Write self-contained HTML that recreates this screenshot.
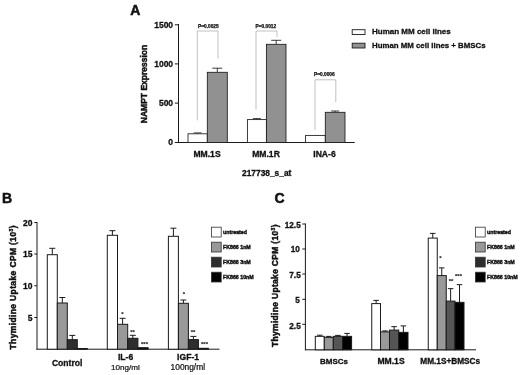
<!DOCTYPE html>
<html><head><meta charset="utf-8"><title>Figure</title>
<style>
html,body{margin:0;padding:0;background:#fff;}
body{width:520px;height:375px;overflow:hidden;font-family:'Liberation Sans', Arial, sans-serif;}
svg{display:block;}
svg text{font-family:'Liberation Sans', Arial, sans-serif;}
</style></head><body>
<svg width="520" height="375" viewBox="0 0 520 375">
<rect x="0" y="0" width="520" height="375" fill="#fff"/>
<text x="130.3" y="14.6" font-size="14" font-weight="bold" text-anchor="start" fill="#111" stroke="#111" stroke-width="0.5" >A</text>
<line x1="178.5" y1="24" x2="178.5" y2="143.0" stroke="#1a1a1a" stroke-width="1"/>
<line x1="178" y1="142.5" x2="354.7" y2="142.5" stroke="#1a1a1a" stroke-width="1"/>
<line x1="174.8" y1="24.8" x2="178.5" y2="24.8" stroke="#1a1a1a" stroke-width="1"/>
<text x="173.1" y="27.85" font-size="8.5" font-weight="bold" text-anchor="end" fill="#111" stroke="#111" stroke-width="0.3" >1500</text>
<line x1="174.8" y1="63.9" x2="178.5" y2="63.9" stroke="#1a1a1a" stroke-width="1"/>
<text x="173.1" y="66.95" font-size="8.5" font-weight="bold" text-anchor="end" fill="#111" stroke="#111" stroke-width="0.3" >1000</text>
<line x1="174.8" y1="103.1" x2="178.5" y2="103.1" stroke="#1a1a1a" stroke-width="1"/>
<text x="173.1" y="106.14999999999999" font-size="8.5" font-weight="bold" text-anchor="end" fill="#111" stroke="#111" stroke-width="0.3" >500</text>
<line x1="174.8" y1="142.5" x2="178.5" y2="142.5" stroke="#1a1a1a" stroke-width="1"/>
<text x="173.1" y="144.7" font-size="8.5" font-weight="bold" text-anchor="end" fill="#111" stroke="#111" stroke-width="0.3" >0</text>
<line x1="197.65" y1="132.9" x2="197.65" y2="133.8" stroke="#1a1a1a" stroke-width="0.85"/>
<line x1="193.65" y1="132.9" x2="201.65" y2="132.9" stroke="#1a1a1a" stroke-width="0.85"/>
<rect x="188" y="133.8" width="19.30000000000001" height="8.699999999999989" fill="#fff" stroke="#1a1a1a" stroke-width="0.85"/>
<line x1="217.3" y1="68.2" x2="217.3" y2="72.3" stroke="#1a1a1a" stroke-width="0.85"/>
<line x1="212.3" y1="68.2" x2="222.3" y2="68.2" stroke="#1a1a1a" stroke-width="0.85"/>
<rect x="207.3" y="72.3" width="20.0" height="70.2" fill="#919191" stroke="#1a1a1a" stroke-width="0.85"/>
<line x1="256.9" y1="118.6" x2="256.9" y2="119.6" stroke="#1a1a1a" stroke-width="0.85"/>
<line x1="252.89999999999998" y1="118.6" x2="260.9" y2="118.6" stroke="#1a1a1a" stroke-width="0.85"/>
<rect x="247.4" y="119.6" width="18.99999999999997" height="22.900000000000006" fill="#fff" stroke="#1a1a1a" stroke-width="0.85"/>
<line x1="276.2" y1="40.3" x2="276.2" y2="44.3" stroke="#1a1a1a" stroke-width="0.85"/>
<line x1="271.2" y1="40.3" x2="281.2" y2="40.3" stroke="#1a1a1a" stroke-width="0.85"/>
<rect x="266.4" y="44.3" width="19.600000000000023" height="98.2" fill="#919191" stroke="#1a1a1a" stroke-width="0.85"/>
<rect x="305.6" y="135.4" width="19.69999999999999" height="7.099999999999994" fill="#fff" stroke="#1a1a1a" stroke-width="0.85"/>
<line x1="335.15" y1="111" x2="335.15" y2="112.3" stroke="#1a1a1a" stroke-width="0.85"/>
<line x1="331.15" y1="111" x2="339.15" y2="111" stroke="#1a1a1a" stroke-width="0.85"/>
<rect x="325.3" y="112.3" width="19.69999999999999" height="30.200000000000003" fill="#919191" stroke="#1a1a1a" stroke-width="0.85"/>
<polyline points="197.3,120.4 197.3,31 218,31 218,58.5" fill="none" stroke="#a8a8a8" stroke-width="0.7"/>
<polyline points="256,109.5 256,31 277,31 277,37" fill="none" stroke="#a8a8a8" stroke-width="0.7"/>
<polyline points="315,130 315,79.8 335.8,79.8 335.8,102" fill="none" stroke="#a8a8a8" stroke-width="0.7"/>
<text x="198" y="27.5" font-size="4.8" font-weight="bold" text-anchor="start" fill="#111" stroke="#111" stroke-width="0.25" >P=0.0025</text>
<text x="255.5" y="27.5" font-size="4.8" font-weight="bold" text-anchor="start" fill="#111" stroke="#111" stroke-width="0.25" >P=0.0012</text>
<text x="314" y="75.8" font-size="4.8" font-weight="bold" text-anchor="start" fill="#111" stroke="#111" stroke-width="0.25" >P=0.0006</text>
<text x="207" y="157.3" font-size="8.6" font-weight="bold" text-anchor="middle" fill="#111" stroke="#111" stroke-width="0.3" >MM.1S</text>
<text x="266" y="157.3" font-size="8.6" font-weight="bold" text-anchor="middle" fill="#111" stroke="#111" stroke-width="0.3" >MM.1R</text>
<text x="324.5" y="157.3" font-size="8.6" font-weight="bold" text-anchor="middle" fill="#111" stroke="#111" stroke-width="0.3" >INA-6</text>
<text x="266.7" y="176.3" font-size="8.4" font-weight="bold" text-anchor="middle" fill="#111" stroke="#111" stroke-width="0.3" >217738_s_at</text>
<text transform="translate(146.5,84) rotate(-90)" font-size="8.5" font-weight="bold" text-anchor="middle" fill="#111" stroke="#111" stroke-width="0.45">NAMPT Expression</text>
<rect x="352.2" y="29.7" width="12.8" height="4.8" fill="#fff" stroke="#1a1a1a" stroke-width="0.9"/>
<rect x="352.2" y="43.2" width="12.8" height="4.8" fill="#919191" stroke="#1a1a1a" stroke-width="0.9"/>
<text x="372" y="34.3" font-size="8" font-weight="bold" text-anchor="start" fill="#111" stroke="#111" stroke-width="0.3" >Human MM cell lines</text>
<text x="372" y="48" font-size="7.85" font-weight="bold" text-anchor="start" fill="#111" stroke="#111" stroke-width="0.3" >Human MM cell lines + BMSCs</text>
<text x="1.9" y="202.6" font-size="14" font-weight="bold" text-anchor="start" fill="#111" stroke="#111" stroke-width="0.5" >B</text>
<line x1="37" y1="222" x2="37" y2="349.7" stroke="#1a1a1a" stroke-width="1"/>
<line x1="36.5" y1="349.2" x2="219.5" y2="349.2" stroke="#1a1a1a" stroke-width="1"/>
<line x1="34.3" y1="222.5" x2="37" y2="222.5" stroke="#1a1a1a" stroke-width="1"/>
<text x="32.4" y="225.5" font-size="8.5" font-weight="bold" text-anchor="end" fill="#111" stroke="#111" stroke-width="0.3" >20</text>
<line x1="34.3" y1="254" x2="37" y2="254" stroke="#1a1a1a" stroke-width="1"/>
<text x="32.4" y="257.0" font-size="8.5" font-weight="bold" text-anchor="end" fill="#111" stroke="#111" stroke-width="0.3" >15</text>
<line x1="34.3" y1="285.75" x2="37" y2="285.75" stroke="#1a1a1a" stroke-width="1"/>
<text x="32.4" y="288.75" font-size="8.5" font-weight="bold" text-anchor="end" fill="#111" stroke="#111" stroke-width="0.3" >10</text>
<line x1="34.3" y1="317.5" x2="37" y2="317.5" stroke="#1a1a1a" stroke-width="1"/>
<text x="32.4" y="320.5" font-size="8.5" font-weight="bold" text-anchor="end" fill="#111" stroke="#111" stroke-width="0.3" >5</text>
<line x1="52.3" y1="248.3" x2="52.3" y2="254.7" stroke="#1a1a1a" stroke-width="1"/>
<line x1="49.3" y1="248.3" x2="55.3" y2="248.3" stroke="#1a1a1a" stroke-width="1"/>
<rect x="47.3" y="254.7" width="10.0" height="94.5" fill="#fff" stroke="#1a1a1a" stroke-width="1"/>
<line x1="62.3" y1="297.5" x2="62.3" y2="303" stroke="#1a1a1a" stroke-width="1"/>
<line x1="59.3" y1="297.5" x2="65.3" y2="297.5" stroke="#1a1a1a" stroke-width="1"/>
<rect x="57.3" y="303" width="10.0" height="46.19999999999999" fill="#999" stroke="#1a1a1a" stroke-width="1"/>
<line x1="72.3" y1="335.4" x2="72.3" y2="339.7" stroke="#1a1a1a" stroke-width="1"/>
<line x1="69.3" y1="335.4" x2="75.3" y2="335.4" stroke="#1a1a1a" stroke-width="1"/>
<rect x="67.3" y="339.7" width="10.0" height="9.5" fill="#2e2e2e" stroke="#1a1a1a" stroke-width="1"/>
<rect x="77.3" y="348.5" width="10.0" height="0.6999999999999886" fill="#000" stroke="#1a1a1a" stroke-width="1"/>
<line x1="112.4" y1="230.7" x2="112.4" y2="235.3" stroke="#1a1a1a" stroke-width="1"/>
<line x1="109.4" y1="230.7" x2="115.4" y2="230.7" stroke="#1a1a1a" stroke-width="1"/>
<rect x="107.3" y="235.3" width="10.200000000000003" height="113.89999999999998" fill="#fff" stroke="#1a1a1a" stroke-width="1"/>
<line x1="122.6" y1="318.3" x2="122.6" y2="324.3" stroke="#1a1a1a" stroke-width="1"/>
<line x1="119.6" y1="318.3" x2="125.6" y2="318.3" stroke="#1a1a1a" stroke-width="1"/>
<rect x="117.5" y="324.3" width="10.199999999999989" height="24.899999999999977" fill="#999" stroke="#1a1a1a" stroke-width="1"/>
<line x1="132.8" y1="335.3" x2="132.8" y2="338.3" stroke="#1a1a1a" stroke-width="1"/>
<line x1="129.8" y1="335.3" x2="135.8" y2="335.3" stroke="#1a1a1a" stroke-width="1"/>
<rect x="127.69999999999999" y="338.3" width="10.200000000000017" height="10.899999999999977" fill="#2e2e2e" stroke="#1a1a1a" stroke-width="1"/>
<rect x="137.9" y="347.7" width="10.199999999999989" height="1.5" fill="#000" stroke="#1a1a1a" stroke-width="1"/>
<line x1="173.4" y1="228.2" x2="173.4" y2="236.3" stroke="#1a1a1a" stroke-width="1"/>
<line x1="170.4" y1="228.2" x2="176.4" y2="228.2" stroke="#1a1a1a" stroke-width="1"/>
<rect x="168.4" y="236.3" width="10.0" height="112.89999999999998" fill="#fff" stroke="#1a1a1a" stroke-width="1"/>
<line x1="183.4" y1="300" x2="183.4" y2="303.3" stroke="#1a1a1a" stroke-width="1"/>
<line x1="180.4" y1="300" x2="186.4" y2="300" stroke="#1a1a1a" stroke-width="1"/>
<rect x="178.4" y="303.3" width="10.0" height="45.89999999999998" fill="#999" stroke="#1a1a1a" stroke-width="1"/>
<line x1="193.4" y1="336.4" x2="193.4" y2="339.6" stroke="#1a1a1a" stroke-width="1"/>
<line x1="190.4" y1="336.4" x2="196.4" y2="336.4" stroke="#1a1a1a" stroke-width="1"/>
<rect x="188.4" y="339.6" width="10.0" height="9.599999999999966" fill="#2e2e2e" stroke="#1a1a1a" stroke-width="1"/>
<rect x="198.4" y="348.3" width="10.0" height="0.8999999999999773" fill="#000" stroke="#1a1a1a" stroke-width="1"/>
<text x="67.2" y="365.6" font-size="8.6" font-weight="bold" text-anchor="middle" fill="#111" stroke="#111" stroke-width="0.3" >Control</text>
<text x="125.6" y="360.3" font-size="8.6" font-weight="bold" text-anchor="middle" fill="#111" stroke="#111" stroke-width="0.3" >IL-6</text>
<text x="125.4" y="370.2" font-size="8.1" font-weight="normal" text-anchor="middle" fill="#111" stroke="#111" stroke-width="0.22" >10ng/ml</text>
<text x="188.1" y="360.3" font-size="8.6" font-weight="bold" text-anchor="middle" fill="#111" stroke="#111" stroke-width="0.3" >IGF-1</text>
<text x="187.8" y="370.2" font-size="8.4" font-weight="normal" text-anchor="middle" fill="#111" stroke="#111" stroke-width="0.22" >100ng/ml</text>
<text transform="translate(16,287.3) rotate(-90)" letter-spacing="0.37" font-size="8.5" font-weight="bold" text-anchor="middle" fill="#111" stroke="#111" stroke-width="0.45">Thymidine Uptake CPM (10<tspan font-size="5" dy="-3">3</tspan><tspan dy="3">)</tspan></text>
<text x="122.5" y="315.5" font-size="6" font-weight="bold" text-anchor="middle" fill="#222" stroke="#222" stroke-width="0.12" >*</text>
<text x="132.5" y="333.5" font-size="6" font-weight="bold" text-anchor="middle" fill="#222" stroke="#222" stroke-width="0.12" >**</text>
<text x="144.5" y="345.8" font-size="6" font-weight="bold" text-anchor="middle" fill="#222" stroke="#222" stroke-width="0.12" >***</text>
<text x="184" y="296" font-size="6" font-weight="bold" text-anchor="middle" fill="#222" stroke="#222" stroke-width="0.12" >*</text>
<text x="193" y="334" font-size="6" font-weight="bold" text-anchor="middle" fill="#222" stroke="#222" stroke-width="0.12" >**</text>
<text x="204.5" y="346" font-size="6" font-weight="bold" text-anchor="middle" fill="#222" stroke="#222" stroke-width="0.12" >***</text>
<rect x="211.4" y="227.20000000000002" width="9.8" height="9.8" fill="#fff" stroke="#333" stroke-width="0.8"/>
<text x="223" y="233.9" font-size="5.25" font-weight="bold" text-anchor="start" fill="#111" stroke="#111" stroke-width="0.4" >untreated</text>
<rect x="211.4" y="242.20000000000002" width="9.8" height="9.8" fill="#999" stroke="#333" stroke-width="0.8"/>
<text x="223" y="248.9" font-size="5.25" font-weight="bold" text-anchor="start" fill="#111" stroke="#111" stroke-width="0.4" >FK866 1nM</text>
<rect x="211.4" y="257.2" width="9.8" height="9.8" fill="#2e2e2e" stroke="#333" stroke-width="0.8"/>
<text x="223" y="263.90000000000003" font-size="5.25" font-weight="bold" text-anchor="start" fill="#111" stroke="#111" stroke-width="0.4" >FK866 3nM</text>
<rect x="211.4" y="272.2" width="9.8" height="9.8" fill="#000" stroke="#333" stroke-width="0.8"/>
<text x="223" y="278.90000000000003" font-size="5.25" font-weight="bold" text-anchor="start" fill="#111" stroke="#111" stroke-width="0.4" >FK866 10nM</text>
<text x="274.5" y="202.7" font-size="14" font-weight="bold" text-anchor="start" fill="#111" stroke="#111" stroke-width="0.5" >C</text>
<line x1="305.4" y1="223.5" x2="305.4" y2="350.3" stroke="#1a1a1a" stroke-width="1"/>
<line x1="305" y1="349.8" x2="476" y2="349.8" stroke="#1a1a1a" stroke-width="1"/>
<line x1="302.3" y1="224" x2="305.4" y2="224" stroke="#1a1a1a" stroke-width="1"/>
<text x="300.7" y="228.2" font-size="8.2" font-weight="bold" text-anchor="end" fill="#111" stroke="#111" stroke-width="0.3" >12.5</text>
<line x1="302.3" y1="249" x2="305.4" y2="249" stroke="#1a1a1a" stroke-width="1"/>
<text x="299.8" y="252.2" font-size="8.2" font-weight="bold" text-anchor="end" fill="#111" stroke="#111" stroke-width="0.3" >10</text>
<line x1="302.3" y1="274" x2="305.4" y2="274" stroke="#1a1a1a" stroke-width="1"/>
<text x="300.7" y="278.2" font-size="8.2" font-weight="bold" text-anchor="end" fill="#111" stroke="#111" stroke-width="0.3" >7.5</text>
<line x1="302.3" y1="299.3" x2="305.4" y2="299.3" stroke="#1a1a1a" stroke-width="1"/>
<text x="299.8" y="302.5" font-size="8.2" font-weight="bold" text-anchor="end" fill="#111" stroke="#111" stroke-width="0.3" >5</text>
<line x1="302.3" y1="324.3" x2="305.4" y2="324.3" stroke="#1a1a1a" stroke-width="1"/>
<text x="300.7" y="328.5" font-size="8.2" font-weight="bold" text-anchor="end" fill="#111" stroke="#111" stroke-width="0.3" >2.5</text>
<line x1="319.8" y1="335.2" x2="319.8" y2="336.35" stroke="#1a1a1a" stroke-width="1"/>
<line x1="317.05" y1="335.2" x2="322.55" y2="335.2" stroke="#1a1a1a" stroke-width="1"/>
<rect x="315.3" y="336.35" width="9.0" height="13.449999999999989" fill="#fff" stroke="#1a1a1a" stroke-width="1"/>
<line x1="328.8" y1="336.4" x2="328.8" y2="337.35" stroke="#1a1a1a" stroke-width="1"/>
<line x1="326.05" y1="336.4" x2="331.55" y2="336.4" stroke="#1a1a1a" stroke-width="1"/>
<rect x="324.3" y="337.35" width="9.0" height="12.449999999999989" fill="#999" stroke="#1a1a1a" stroke-width="1"/>
<line x1="337.9" y1="335.4" x2="337.9" y2="336.35" stroke="#1a1a1a" stroke-width="1"/>
<line x1="335.15" y1="335.4" x2="340.65" y2="335.4" stroke="#1a1a1a" stroke-width="1"/>
<rect x="333.3" y="336.35" width="9.199999999999989" height="13.449999999999989" fill="#555" stroke="#1a1a1a" stroke-width="1"/>
<line x1="347.05" y1="333.4" x2="347.05" y2="336.35" stroke="#1a1a1a" stroke-width="1"/>
<line x1="344.3" y1="333.4" x2="349.8" y2="333.4" stroke="#1a1a1a" stroke-width="1"/>
<rect x="342.5" y="336.35" width="9.100000000000023" height="13.449999999999989" fill="#000" stroke="#1a1a1a" stroke-width="1"/>
<line x1="376.125" y1="300.4" x2="376.125" y2="303.6" stroke="#1a1a1a" stroke-width="1"/>
<line x1="373.375" y1="300.4" x2="378.875" y2="300.4" stroke="#1a1a1a" stroke-width="1"/>
<rect x="371.75" y="303.6" width="8.75" height="46.19999999999999" fill="#fff" stroke="#1a1a1a" stroke-width="1"/>
<line x1="385.0" y1="330.9" x2="385.0" y2="331.85" stroke="#1a1a1a" stroke-width="1"/>
<line x1="382.25" y1="330.9" x2="387.75" y2="330.9" stroke="#1a1a1a" stroke-width="1"/>
<rect x="380.5" y="331.85" width="9.0" height="17.94999999999999" fill="#999" stroke="#1a1a1a" stroke-width="1"/>
<line x1="394.125" y1="326.65" x2="394.125" y2="330.1" stroke="#1a1a1a" stroke-width="1"/>
<line x1="391.375" y1="326.65" x2="396.875" y2="326.65" stroke="#1a1a1a" stroke-width="1"/>
<rect x="389.5" y="330.1" width="9.25" height="19.69999999999999" fill="#555" stroke="#1a1a1a" stroke-width="1"/>
<line x1="403.375" y1="325.9" x2="403.375" y2="332.35" stroke="#1a1a1a" stroke-width="1"/>
<line x1="400.625" y1="325.9" x2="406.125" y2="325.9" stroke="#1a1a1a" stroke-width="1"/>
<rect x="398.75" y="332.35" width="9.25" height="17.44999999999999" fill="#000" stroke="#1a1a1a" stroke-width="1"/>
<line x1="432.75" y1="233.4" x2="432.75" y2="238.1" stroke="#1a1a1a" stroke-width="1"/>
<line x1="430.0" y1="233.4" x2="435.5" y2="233.4" stroke="#1a1a1a" stroke-width="1"/>
<rect x="428.25" y="238.1" width="9.0" height="111.70000000000002" fill="#fff" stroke="#1a1a1a" stroke-width="1"/>
<line x1="441.75" y1="267.9" x2="441.75" y2="275.6" stroke="#1a1a1a" stroke-width="1"/>
<line x1="439.0" y1="267.9" x2="444.5" y2="267.9" stroke="#1a1a1a" stroke-width="1"/>
<rect x="437.25" y="275.6" width="9.0" height="74.19999999999999" fill="#999" stroke="#1a1a1a" stroke-width="1"/>
<line x1="450.625" y1="288.65" x2="450.625" y2="301.1" stroke="#1a1a1a" stroke-width="1"/>
<line x1="447.875" y1="288.65" x2="453.375" y2="288.65" stroke="#1a1a1a" stroke-width="1"/>
<rect x="446.25" y="301.1" width="8.75" height="48.69999999999999" fill="#555" stroke="#1a1a1a" stroke-width="1"/>
<line x1="459.5" y1="284.65" x2="459.5" y2="302.35" stroke="#1a1a1a" stroke-width="1"/>
<line x1="456.75" y1="284.65" x2="462.25" y2="284.65" stroke="#1a1a1a" stroke-width="1"/>
<rect x="455" y="302.35" width="9" height="47.44999999999999" fill="#000" stroke="#1a1a1a" stroke-width="1"/>
<text x="334" y="364.4" font-size="8.0" font-weight="bold" text-anchor="middle" fill="#111" stroke="#111" stroke-width="0.3" >BMSCs</text>
<text x="391" y="364.4" font-size="8.6" font-weight="bold" text-anchor="middle" fill="#111" stroke="#111" stroke-width="0.3" >MM.1S</text>
<text x="450.2" y="364.4" font-size="8.25" font-weight="bold" text-anchor="middle" fill="#111" stroke="#111" stroke-width="0.3" >MM.1S+BMSCs</text>
<text transform="translate(277.5,285.6) rotate(-90)" letter-spacing="0.31" font-size="8.5" font-weight="bold" text-anchor="middle" fill="#111" stroke="#111" stroke-width="0.45">Thymidine Uptake CPM (10<tspan font-size="5" dy="-3">3</tspan><tspan dy="3">)</tspan></text>
<text x="440.5" y="260" font-size="6" font-weight="bold" text-anchor="middle" fill="#222" stroke="#222" stroke-width="0.12" >*</text>
<text x="451" y="283" font-size="6" font-weight="bold" text-anchor="middle" fill="#222" stroke="#222" stroke-width="0.12" >**</text>
<text x="458.5" y="278" font-size="6" font-weight="bold" text-anchor="middle" fill="#222" stroke="#222" stroke-width="0.12" >***</text>
<rect x="475.4" y="227.20000000000002" width="9.8" height="9.8" fill="#fff" stroke="#333" stroke-width="0.8"/>
<text x="487" y="233.9" font-size="5.25" font-weight="bold" text-anchor="start" fill="#111" stroke="#111" stroke-width="0.4" >untreated</text>
<rect x="475.4" y="242.20000000000002" width="9.8" height="9.8" fill="#999" stroke="#333" stroke-width="0.8"/>
<text x="487" y="248.9" font-size="5.25" font-weight="bold" text-anchor="start" fill="#111" stroke="#111" stroke-width="0.4" >FK866 1nM</text>
<rect x="475.4" y="257.2" width="9.8" height="9.8" fill="#2e2e2e" stroke="#333" stroke-width="0.8"/>
<text x="487" y="263.90000000000003" font-size="5.25" font-weight="bold" text-anchor="start" fill="#111" stroke="#111" stroke-width="0.4" >FK866 3nM</text>
<rect x="475.4" y="272.2" width="9.8" height="9.8" fill="#000" stroke="#333" stroke-width="0.8"/>
<text x="487" y="278.90000000000003" font-size="5.25" font-weight="bold" text-anchor="start" fill="#111" stroke="#111" stroke-width="0.4" >FK866 10nM</text>
</svg>
</body></html>
